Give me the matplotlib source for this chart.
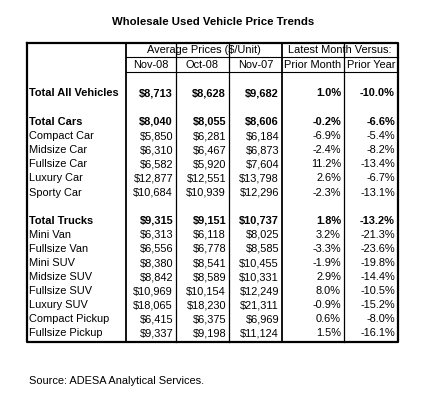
import matplotlib.pyplot as plt

plt.rcParams['font.family'] = ['Liberation Sans', 'DejaVu Sans']

# ---- data ----
labels = ["Total All Vehicles", None,
          "Total Cars", "Compact Car", "Midsize Car", "Fullsize Car", "Luxury Car", "Sporty Car", None,
          "Total Trucks", "Mini Van", "Fullsize Van", "Mini SUV", "Midsize SUV", "Fullsize SUV",
          "Luxury SUV", "Compact Pickup", "Fullsize Pickup"]
nov08 = [8713, None, 8040, 5850, 6310, 6582, 12877, 10684, None,
         9315, 6313, 6556, 8380, 8842, 10969, 18065, 6415, 9337]
oct08 = [8628, None, 8055, 6281, 6467, 5920, 12551, 10939, None,
         9151, 6118, 6778, 8541, 8589, 10154, 18230, 6375, 9198]
nov07 = [9682, None, 8606, 6184, 6873, 7604, 13798, 12296, None,
         10737, 8025, 8585, 10455, 10331, 12249, 21311, 6969, 11124]
prior_month = [1.0, None, -0.2, -6.9, -2.4, 11.2, 2.6, -2.3, None,
               1.8, 3.2, -3.3, -1.9, 2.9, 8.0, -0.9, 0.6, 1.5]
prior_year = [-10.0, None, -6.6, -5.4, -8.2, -13.4, -6.7, -13.1, None,
              -13.2, -21.3, -23.6, -19.8, -14.4, -10.5, -15.2, -8.0, -16.1]
bold_rows = {"Total All Vehicles", "Total Cars", "Total Trucks"}
col_heads = ["Nov-08", "Oct-08", "Nov-07", "Prior Month", "Prior Year"]

fig = plt.figure(figsize=(4.28, 4.0), dpi=100)
ax = fig.add_axes([0, 0, 1, 1])
ax.set_xlim(0, 428)
ax.set_ylim(400, 0)
ax.axis("off")

fs = 7.9
L, R, T, B = 27, 398, 43, 342
seps = [126, 176, 229, 282, 344]
ax.plot([L, R, R, L, L], [T, T, B, B, T], color="black", lw=1.6)
for i, x in enumerate(seps):
    ax.plot([x, x], [T, B], color="black", lw=1.3 if i in (0, 3) else 0.9)
ax.plot([seps[0], R], [57, 57], color="black", lw=0.8)
ax.plot([seps[0], R], [71.5, 71.5], color="black", lw=0.8)

ax.text(213, 22, "Wholesale Used Vehicle Price Trends", ha="center", va="center",
        fontsize=8.2, fontweight="bold")
ax.text((seps[0] + seps[3]) / 2, 50, "Average Prices ($/Unit)", ha="center", va="center", fontsize=fs)
ax.text((seps[3] + R) / 2, 50, "Latest Month Versus:", ha="center", va="center", fontsize=fs)
edges = seps + [R]
for i, h in enumerate(col_heads):
    ax.text((edges[i] + edges[i + 1]) / 2, 64.5, h, ha="center", va="center", fontsize=fs)

right = [e - 3 for e in edges[1:]]
step = 14.1
for k, lab in enumerate(labels):
    if lab is None:
        continue
    yy = 93 if k == 0 else 122 + (k - 2) * step
    w = "bold" if lab in bold_rows else "normal"
    ax.text(29, yy, lab, ha="left", va="center", fontsize=fs, fontweight=w)
    vals = [f"${nov08[k]:,}", f"${oct08[k]:,}", f"${nov07[k]:,}",
            f"{prior_month[k]:.1f}%", f"{prior_year[k]:.1f}%"]
    for xr, v in zip(right, vals):
        ax.text(xr, yy, v, ha="right", va="center", fontsize=fs, fontweight=w)

ax.text(29, 381, "Source: ADESA Analytical Services.", ha="left", va="center", fontsize=fs)

fig.savefig("out.png", dpi=100)
